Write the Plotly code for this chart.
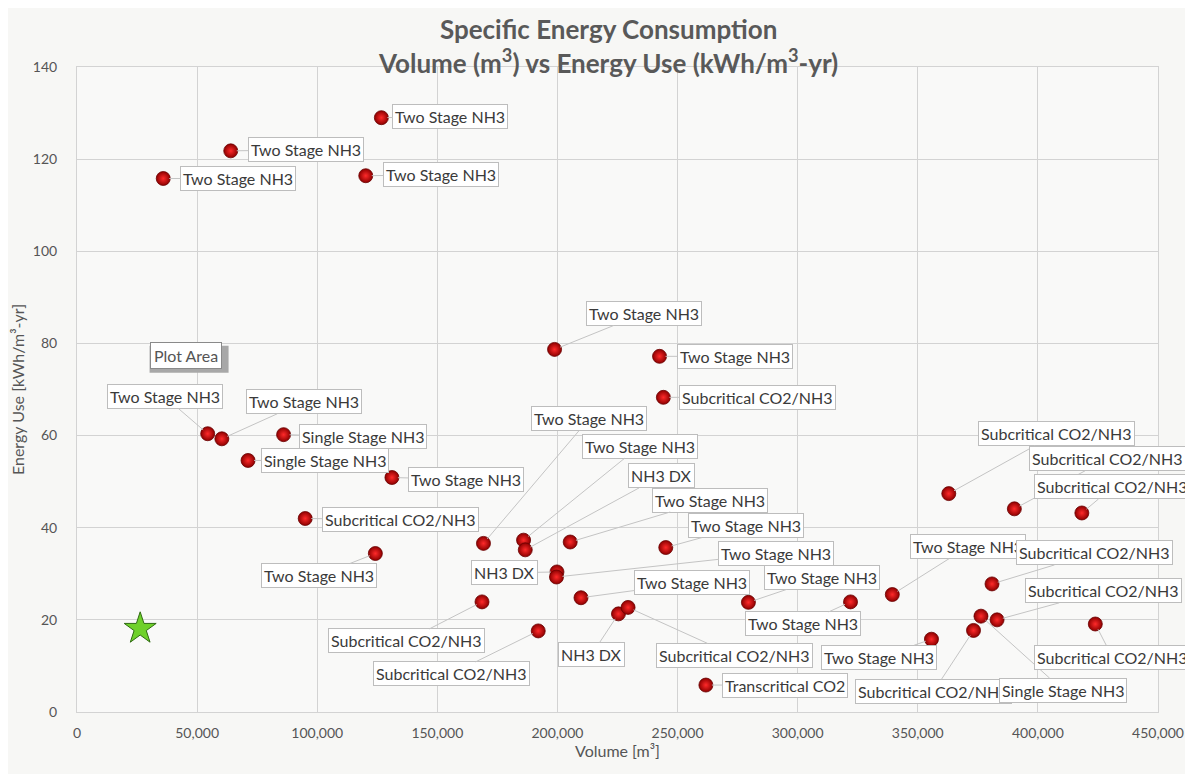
import plotly.graph_objects as go

# ---------------- data ----------------
VOLUME = [126700, 64000, 35900, 120200, 198800, 242500, 244100, 54400, 60300, 86000,
          71200, 131100, 95000, 124200, 169200, 185900, 186600, 205300, 245100, 199800,
          199600, 209800, 168600, 192000, 225400, 229400, 279500, 322000, 339400, 380900,
          383000, 373200, 376300, 355700, 423900, 261800, 362900, 390200, 418300]
ENERGY = [129.0, 121.8, 115.8, 116.4, 78.7, 77.2, 68.3, 60.4, 59.3, 60.2,
          54.6, 50.9, 42.0, 34.4, 36.6, 37.3, 35.2, 36.9, 35.7, 30.4,
          29.3, 24.8, 23.9, 17.6, 21.3, 22.7, 23.8, 23.9, 25.5, 27.8,
          20.0, 17.7, 20.8, 15.8, 19.1, 5.85, 47.4, 44.1, 43.2]
SYSTEM = ["Two Stage NH3", "Two Stage NH3", "Two Stage NH3", "Two Stage NH3", "Two Stage NH3",
          "Two Stage NH3", "Subcritical CO2/NH3", "Two Stage NH3", "Two Stage NH3", "Single Stage NH3",
          "Single Stage NH3", "Two Stage NH3", "Subcritical CO2/NH3", "Two Stage NH3", "Two Stage NH3",
          "Two Stage NH3", "NH3 DX", "Two Stage NH3", "Two Stage NH3", "NH3 DX",
          "Two Stage NH3", "Two Stage NH3", "Subcritical CO2/NH3", "Subcritical CO2/NH3", "NH3 DX",
          "Subcritical CO2/NH3", "Two Stage NH3", "Two Stage NH3", "Two Stage NH3", "Subcritical CO2/NH3",
          "Subcritical CO2/NH3", "Subcritical CO2/NH3", "Single Stage NH3", "Two Stage NH3", "Subcritical CO2/NH3",
          "Transcritical CO2", "Subcritical CO2/NH3", "Subcritical CO2/NH3", "Subcritical CO2/NH3"]

TARGET_VOLUME = [26300]
TARGET_ENERGY = [18.1]

X_TICKS = [0, 50000, 100000, 150000, 200000, 250000, 300000, 350000, 400000, 450000]
Y_TICKS = [0, 20, 40, 60, 80, 100, 120, 140]

# label box offsets (pixels, label centre relative to its point)
LABEL_OFFSETS = [(69, -1), (75, -1), (75, 0), (75, -1), (89, -36),
                 (75, 0), (94, 0), (-43, -37), (82, -37), (79, 2),
                 (77, 0), (74, 2), (95, 1), (-56, 22), (106, -125),
                 (116, -94), (136, -74), (140, -42), (80, -22), (-52, 1),
                 (220, -24), (111, -15), (-76, 39), (-87, 43), (-27, 41),
                 (106, 48), (74, -25), (-48, 22), (76, -48), (102, -31),
                 (106, -29), (-40, 61), (82, 74), (-52, 18), (17, 33),
                 (79, 0), (108, -60), (93, -50), (31, -26)]

FONT = "Lato, 'Open Sans', sans-serif"
GRID = "#d3d3d3"

fig = go.Figure()

fig.add_trace(go.Scatter(
    x=VOLUME, y=ENERGY, mode="markers", text=SYSTEM, showlegend=False,
    marker=dict(size=14, color="#8e0000",
                gradient=dict(type="radial", color="#ff2a2a"),
                line=dict(color="#6a0000", width=0.8)),
))

fig.add_trace(go.Scatter(
    x=TARGET_VOLUME, y=TARGET_ENERGY, mode="markers", showlegend=False,
    marker=dict(symbol="star", size=24, color="#6fd12a",
                line=dict(color="#2f6b12", width=1)),
))

annotations = []
for xv, yv, lab, (ax, ay) in zip(VOLUME, ENERGY, SYSTEM, LABEL_OFFSETS):
    annotations.append(dict(
        x=xv, y=yv, xref="x", yref="y", text=lab,
        showarrow=True, arrowhead=0, arrowwidth=1, arrowcolor="#c4c4c4",
        standoff=6, ax=ax, ay=ay,
        font=dict(family=FONT, size=16, color="#3a3a3a"),
        bgcolor="white", bordercolor="#bdbdbd", borderwidth=1, borderpad=2,
    ))

# "Plot Area" tooltip
PLOT_AREA_X, PLOT_AREA_Y = 45200, 77.3
annotations.append(dict(
    x=PLOT_AREA_X, y=PLOT_AREA_Y, xref="x", yref="y", text="Plot Area", showarrow=False,
    font=dict(family=FONT, size=16, color="#555555"),
    bgcolor="white", bordercolor="#8a8a8a", borderwidth=1, borderpad=3,
))

# title (two lines)
annotations.append(dict(
    x=0.491, y=1, xref="paper", yref="paper", yshift=21, yanchor="middle",
    text="<b>Specific Energy Consumption</b><br><b>Volume (m<sup>3</sup>) vs Energy Use (kWh/m<sup>3</sup>-yr)</b>",
    showarrow=False,
    font=dict(family=FONT, size=26, color="#595959"),
))

# drop shadow behind the tooltip box
shapes = [dict(
    type="rect", xref="x", yref="y", xsizemode="pixel", ysizemode="pixel",
    xanchor=PLOT_AREA_X, yanchor=PLOT_AREA_Y, x0=-36, x1=43, y0=-17, y1=10,
    fillcolor="#a8a8a8", line=dict(width=0), layer="above",
)]

# page body adds an 8px offset; margins compensate so the plot lands where the reference has it
fig.update_layout(
    width=1185, height=766,
    margin=dict(l=69, r=35, t=59, b=62, autoexpand=False),
    paper_bgcolor="#f7f7f5", plot_bgcolor="#f9f9f8",
    font=dict(family=FONT, color="#555555"),
    annotations=annotations, shapes=shapes,
    xaxis=dict(range=[0, 450000], tickvals=X_TICKS, tickformat=",d", automargin=False,
               showgrid=True, gridcolor=GRID, gridwidth=1, zeroline=False,
               showline=True, linecolor=GRID, mirror=True,
               tickfont=dict(family=FONT, size=14, color="#555555"),
               ticks="", ticklabelstandoff=8,
               title=dict(text="Volume [m³]", font=dict(family=FONT, size=16, color="#555555"),
                          standoff=6)),
    yaxis=dict(range=[0, 140], tickvals=Y_TICKS, automargin=False,
               showgrid=True, gridcolor=GRID, gridwidth=1, zeroline=False,
               showline=True, linecolor=GRID, mirror=True,
               tickfont=dict(family=FONT, size=14, color="#555555"),
               ticks="", ticklabelstandoff=16,
               title=dict(text="Energy Use [kWh/m³-yr]", font=dict(family=FONT, size=16, color="#555555"),
                          standoff=10)),
)

fig.write_html("out.html")
